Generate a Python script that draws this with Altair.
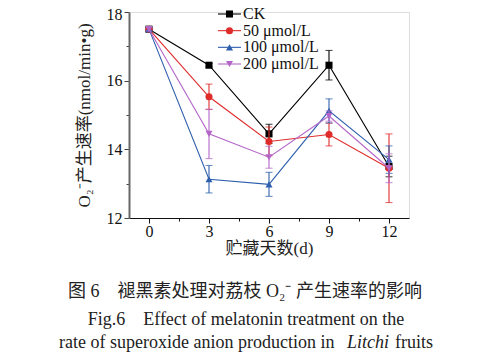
import altair as alt
import pandas as pd

# ---- data ----
days = [0, 3, 6, 9, 12]
series = ["CK", "50 μmol/L", "100 μmol/L", "200 μmol/L"]
ck = [17.5, 16.45, 14.45, 16.45, 13.5]
ck_err = [0.05, 0.05, 0.28, 0.43, 0.3]
m50 = [17.5, 15.53, 14.23, 14.43, 13.45]
m50_err = [0.05, 0.37, 0.42, 0.33, 1.0]
m100 = [17.5, 13.13, 12.98, 15.12, 13.7]
m100_err = [0.05, 0.4, 0.35, 0.35, 0.4]
m200 = [17.5, 14.45, 13.77, 14.97, 13.45]
m200_err = [0.05, 0.72, 0.32, 0.15, 0.42]

colors = ["#000000", "#e02b2b", "#2e5fae", "#b466c8"]
shapes = ["square", "circle", "triangle-up", "triangle-down"]

y_title = "O₂⁻产生速率(nmol/min•g)"
x_title = "贮藏天数(d)"
caption_cn = "图 6　褪黑素处理对荔枝 O₂⁻ 产生速率的影响"
caption_en1 = "Fig.6　Effect of melatonin treatment on the"
caption_en2a = "rate of superoxide anion production in"
caption_en2b = "Litchi"
caption_en2c = "fruits"

rows = []
for name, vals, errs in zip(series, [ck, m50, m100, m200], [ck_err, m50_err, m100_err, m200_err]):
    for d, v, e in zip(days, vals, errs):
        rows.append({"series": name, "day": d, "value": v, "lo": v - e, "hi": v + e})
df = pd.DataFrame(rows)
legend_df = pd.DataFrame({"series": series, "idx": list(range(len(series)))})

SERIF = "Liberation Serif, Noto Sans CJK SC"
CJK = "Liberation Serif, Noto Sans CJK SC"

color_scale = alt.Scale(domain=series, range=colors)
shape_scale = alt.Scale(domain=series, range=shapes)

x_enc = alt.X(
    "day:Q",
    scale=alt.Scale(domain=[-1, 13], nice=False, zero=False),
    axis=alt.Axis(
        values=[0, 1.5, 3, 4.5, 6, 7.5, 9, 10.5, 12],
        labelExpr="datum.value % 3 === 0 ? datum.label : ''",
        tickSize={"condition": {"test": "datum.value % 3 === 0", "value": 5}, "value": 3},
        grid=False, title=x_title, titleFont=CJK, titleFontSize=17,
        titleFontWeight="normal", titleColor="#222", titlePadding=1,
        labelFont=SERIF, labelFontSize=16, labelColor="#111", labelPadding=0,
        domainColor="#111", tickColor="#111", labelFlush=False,
    ),
)
y_axis = alt.Axis(
    values=[12, 13, 14, 15, 16, 17, 18],
    labelExpr="datum.value % 2 === 0 ? datum.label : ''",
    labelOffset={"condition": {"test": "datum.value === 18", "value": 2}, "value": 0},
    tickSize={"condition": {"test": "datum.value % 2 === 0", "value": 5}, "value": 3},
    grid=False, title=y_title, titleFont=CJK, titleFontSize=17,
    titleFontWeight="normal", titleColor="#222", titlePadding=13,
    labelFont=SERIF, labelFontSize=16, labelColor="#111", labelPadding=2,
    domainColor="#666", domainWidth=2, tickColor="#444", labelFlush=False,
)
y_scale = alt.Scale(domain=[12, 18], nice=False, zero=False)

base = alt.Chart(df)
layers = []
for name in series:
    sub = base.transform_filter(alt.datum.series == name)
    err = sub.mark_errorbar(ticks={"size": 7}, thickness=1.1).encode(
        x=x_enc,
        y=alt.Y("lo:Q", scale=y_scale, axis=y_axis),
        y2="hi:Q",
        color=alt.Color("series:N", scale=color_scale, legend=None),
    )
    line = sub.mark_line(strokeWidth=1.1).encode(
        x=x_enc,
        y=alt.Y("value:Q", scale=y_scale, axis=y_axis),
        color=alt.Color("series:N", scale=color_scale, legend=None),
    )
    pts = sub.mark_point(filled=True, size=50, opacity=1).encode(
        x=x_enc,
        y=alt.Y("value:Q", scale=y_scale, axis=y_axis),
        color=alt.Color("series:N", scale=color_scale, legend=None),
        shape=alt.Shape("series:N", scale=shape_scale, legend=None),
    )
    layers += [err, line, pts]
main = alt.layer(*layers)

leg_y = alt.Y("idx:Q", scale=alt.Scale(domain=[0, 3], range=[2, 52]), axis=None)
leg_base = alt.Chart(legend_df)
leg_rule = leg_base.mark_rule(strokeWidth=1.1).encode(
    x=alt.value(89), x2=alt.value(112), y=leg_y,
    color=alt.Color("series:N", scale=color_scale, legend=None),
)
leg_pt = leg_base.mark_point(filled=True, size=50, opacity=1).encode(
    x=alt.value(100.5), y=leg_y,
    color=alt.Color("series:N", scale=color_scale, legend=None),
    shape=alt.Shape("series:N", scale=shape_scale, legend=None),
)
leg_txt = leg_base.mark_text(align="left", baseline="middle", font=SERIF, fontSize=16,
                             color="#111").encode(
    x=alt.value(114), y=leg_y, text="series:N",
)
legend = alt.layer(leg_rule, leg_pt, leg_txt)


def cap(text, x, y, align="center", style="normal", font=SERIF, size=18):
    return alt.Chart(pd.DataFrame({"t": [text]})).mark_text(
        align=align, baseline="middle", font=font, fontSize=size,
        fontStyle=style, color="#222",
    ).encode(x=alt.value(x), y=alt.value(y), text="t:N")


captions = alt.layer(
    cap(caption_cn, 116, 280, font=CJK, size=18),
    cap(caption_en1, 117, 308),
    cap(caption_en2a, -70, 331, align="left"),
    cap(caption_en2b, 218, 331, align="left", style="italic"),
    cap(caption_en2c, 266, 331, align="left"),
)

chart = alt.layer(main, legend, captions).resolve_scale(y="independent").properties(
    width=280, height=206,
    autosize=alt.AutoSizeParams(type="none"),
    padding={"left": 121, "top": 4, "right": 75, "bottom": 134},
).configure_view(stroke=None).configure(background="white")

chart.save("out.html", embed_options={"renderer": "svg", "actions": False})
